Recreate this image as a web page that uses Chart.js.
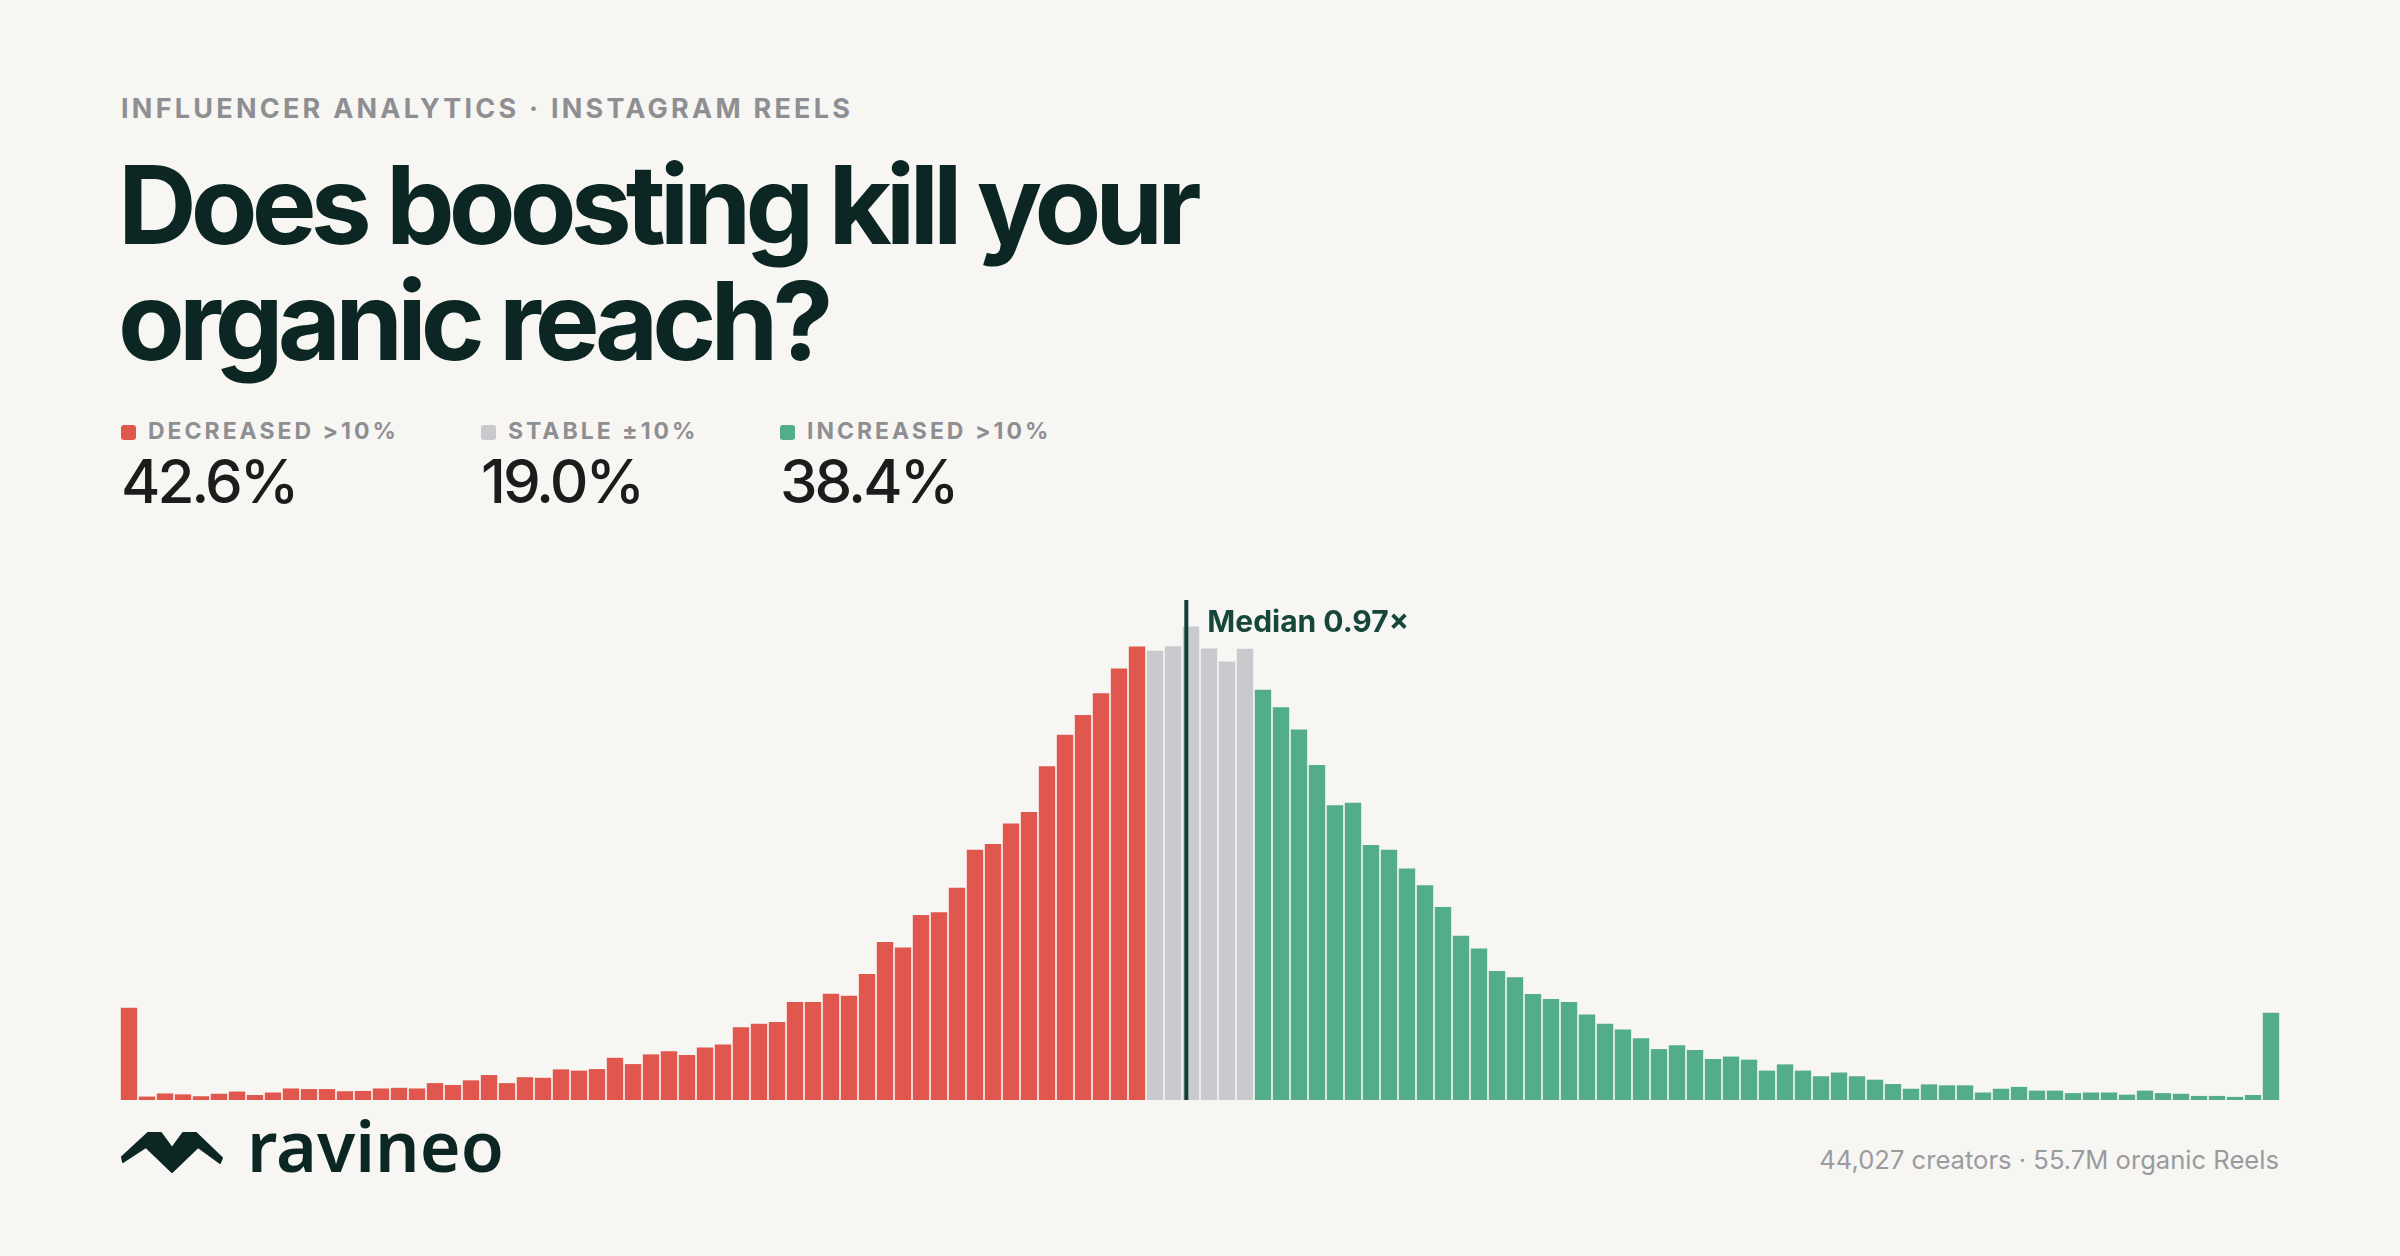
<!DOCTYPE html>
<html>
<head>
<meta charset="utf-8">
<script src="https://cdn.jsdelivr.net/npm/chart.js@4.4.1/dist/chart.umd.min.js"></script>
<style>
  html, body { margin: 0; padding: 0; }
  body {
    width: 2400px; height: 1256px; overflow: hidden; position: relative;
    background: #F7F6F3; font-family: Inter, "Noto Sans", sans-serif;
  }
  .abs { position: absolute; white-space: nowrap; }
  #eyebrow { left: 121px; top: 95px; font-size: 27px; line-height: 1; font-weight: 700;
    letter-spacing: 0.12em; color: #8e8f93; }
  #title { left: 118px; top: 146px; font-size: 109px; line-height: 116px; font-weight: 700;
    letter-spacing: -0.054em; color: #0c2624; }
  .stat { top: 420px; }
  .stat .lab { font-size: 23px; line-height: 1; font-weight: 700; letter-spacing: 0.13em; color: #8e8f93; }
  .stat .lab i { display: inline-block; width: 15px; height: 15px; border-radius: 3px;
    margin-right: 12px; vertical-align: -1px; }
  .stat .val { margin-top: 8px; font-size: 60px; line-height: 1; font-weight: 500;
    letter-spacing: -0.05em; color: #1b1c1c; }
  #logoText { left: 247px; top: 1110px; font-family: "Noto Sans", sans-serif; font-size: 70px;
    line-height: 1; font-weight: 600; color: #0c2624; }
  #logoIcon { left: 121px; top: 1130px; }
  #foot { right: 121px; top: 1147px; font-size: 25.6px; line-height: 1; color: #9a9b9f; }
  #chartBox { left: 120px; top: 580px; }
</style>
</head>
<body>
<div id="eyebrow" class="abs">INFLUENCER ANALYTICS · INSTAGRAM REELS</div>
<div id="title" class="abs">Does boosting kill your<br>organic reach?</div>

<div class="abs stat" style="left:121px">
  <div class="lab"><i style="background:#E0584D"></i>DECREASED &gt;10%</div>
  <div class="val">42.6%</div>
</div>
<div class="abs stat" style="left:481px">
  <div class="lab"><i style="background:#C8CACE"></i>STABLE ±10%</div>
  <div class="val">19.0%</div>
</div>
<div class="abs stat" style="left:780px">
  <div class="lab"><i style="background:#52AD88"></i>INCREASED &gt;10%</div>
  <div class="val">38.4%</div>
</div>

<div id="chartBox" class="abs"><canvas id="hist" width="2160" height="520"></canvas></div>

<svg id="logoIcon" class="abs" width="102" height="44" viewBox="0 0 102 44">
  <path d="M1,27 L27,3 L40,3 L51,18 L62,3 L75,3 L101,28 L99,33 L77,17 L51,42 L25,17 L2,32 Z"
        fill="#0c2624" stroke="#0c2624" stroke-width="2" stroke-linejoin="round"/>
</svg>
<div id="logoText" class="abs">ravineo</div>
<div id="foot" class="abs">44,027 creators · 55.7M organic Reels</div>

<script>
// creators per bin (boosted-period organic reach / baseline), log-spaced bins
const decreased = [295, 11, 21, 18, 12, 20, 27, 16, 24, 37,
  35, 35, 28, 29, 37, 39, 37, 54, 48, 63,
  80, 54, 73, 71, 98, 94, 99, 135, 115, 146,
  156, 144, 168, 178, 233, 244, 250, 314, 314, 340,
  334, 403, 506, 488, 592, 601, 679, 801, 819, 885,
  922, 1068, 1169, 1232, 1302, 1381, 1451];
const stable = [1438, 1452, 1515, 1445, 1403, 1444];
const increased = [1313, 1257, 1186, 1072, 943, 951, 816, 801, 741, 687,
  618, 526, 485, 413, 393, 339, 323, 314, 274, 244,
  226, 198, 163, 175, 160, 131, 139, 129, 94, 114,
  94, 76, 88, 76, 65, 51, 36, 50, 47, 47,
  24, 36, 42, 30, 30, 22, 24, 24, 17, 30,
  22, 20, 13, 13, 10, 16, 279];

const stableLo = 0.9, stableHi = 1.1;
const median = 0.97;

const colRed = '#E0584D', colGray = '#C8CACE', colGreen = '#52AD88';

// bin labels from the log step of the stable band
const step = Math.log(stableHi / stableLo) / stable.length;
const total = decreased.length + stable.length + increased.length;
const labels = [];
for (let i = 0; i < total; i++) {
  const lo = stableLo * Math.exp((i - decreased.length) * step);
  const hi = lo * Math.exp(step);
  if (i === 0) labels.push('<' + hi.toFixed(2) + '×');
  else if (i === total - 1) labels.push('>' + lo.toFixed(2) + '×');
  else labels.push(lo.toFixed(2) + '–' + hi.toFixed(2) + '×');
}

const values = decreased.concat(stable, increased);
const colors = decreased.map(() => colRed)
  .concat(stable.map(() => colGray), increased.map(() => colGreen));

const medianPos = decreased.length - 0.5 + Math.log(median / stableLo) / step;

const medianLine = {
  id: 'medianLine',
  afterDatasetsDraw(chart) {
    const { ctx, chartArea } = chart;
    const x = chart.scales.x.getPixelForValue(medianPos);
    ctx.save();
    ctx.fillStyle = '#123f34';
    ctx.fillRect(x - 2, chartArea.top, 4, chartArea.bottom - chartArea.top);
    ctx.font = '700 30px Inter';
    ctx.fillStyle = '#17473b';
    ctx.textBaseline = 'alphabetic';
    ctx.fillText('Median ' + median.toFixed(2) + '×', x + 21, chartArea.top + 32);
    ctx.restore();
  }
};

new Chart(document.getElementById('hist'), {
  type: 'bar',
  data: {
    labels: labels,
    datasets: [{
      data: values,
      backgroundColor: colors,
      borderWidth: 0,
      categoryPercentage: 1,
      barPercentage: 0.91
    }]
  },
  options: {
    responsive: false,
    animation: false,
    devicePixelRatio: 1,
    layout: { padding: { top: 20, left: 0, right: 0, bottom: 0 } },
    plugins: { legend: { display: false }, tooltip: { enabled: false } },
    scales: {
      x: { display: false },
      y: { display: false, min: 0, max: 1600 }
    }
  },
  plugins: [medianLine]
});
</script>
</body>
</html>
